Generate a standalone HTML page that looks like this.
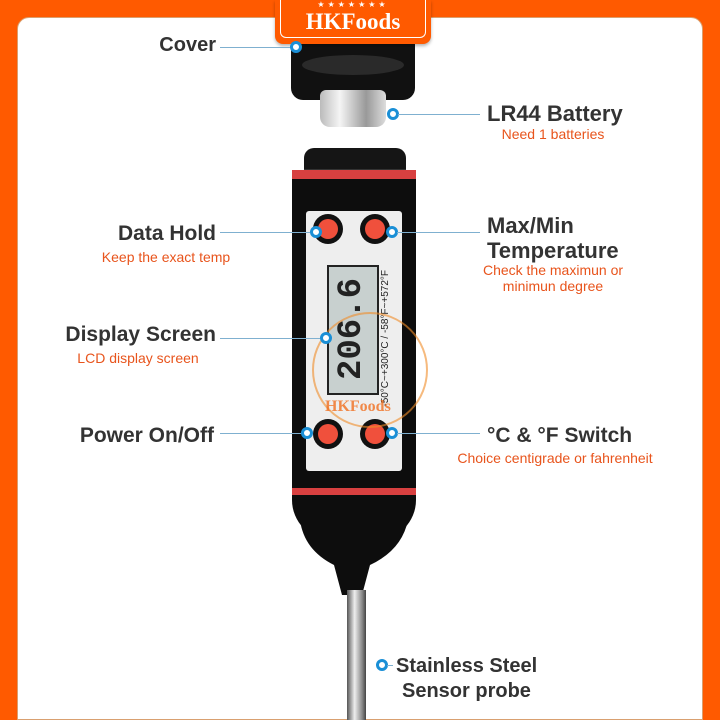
<!DOCTYPE html>
<html><head><meta charset="utf-8"><style>
*{margin:0;padding:0;box-sizing:border-box}
body{width:720px;height:720px;background:#ff5a00;position:relative;overflow:hidden;font-family:"Liberation Sans",sans-serif}
.in{position:absolute;left:17px;top:17px;right:17px;bottom:0;background:#fff;border-radius:12px 12px 0 0;border:1px solid #d9a070}
.a{position:absolute}
.t{position:absolute;font-weight:bold;color:#333;font-size:21px;white-space:nowrap}
.r{text-align:right;width:200px}
.s{position:absolute;color:#e8541c;font-size:14px;white-space:nowrap;text-align:center}
.ln{position:absolute;height:1px;background:#7fb0d0}
.dot{position:absolute;width:12px;height:12px;border:3px solid #1a8fd6;border-radius:50%;background:#fff}
.btn{position:absolute;width:30px;height:30px;border-radius:50%;background:#111}
.btn:after{content:"";position:absolute;left:5px;top:5px;width:20px;height:20px;border-radius:50%;background:#f0503c}
</style></head><body>
<div class="in"></div>
<!-- cover -->
<div class="a" style="left:291px;top:30px;width:124px;height:70px;background:#111;border-radius:0 0 12px 12px"></div>
<div class="a" style="left:302px;top:55px;width:102px;height:20px;border-radius:50%;background:#2a2a2a"></div>
<!-- badge -->
<div class="a" style="left:275px;top:0;width:156px;height:44px;background:#ff5a00;border-radius:0 0 8px 8px;box-shadow:0 2px 3px rgba(0,0,0,.3)"></div>
<div class="a" style="left:280px;top:0;width:146px;height:38px;border:1px solid #fff;border-top:none;border-radius:0 0 6px 6px"></div>
<div class="a" style="left:275px;top:0px;width:156px;text-align:center;color:#fff;font-size:8px;letter-spacing:3px">★★★★★★★</div>
<div class="a" style="left:275px;top:9px;width:156px;text-align:center;color:#fff;font:bold 23px 'Liberation Serif',serif">HKFoods</div>
<!-- battery -->
<div class="a" style="left:320px;top:90px;width:66px;height:37px;border-radius:6px 6px 10px 10px;background:linear-gradient(90deg,#bbb,#f5f5f5 30%,#999 70%,#ddd)"></div>
<!-- body -->
<div class="a" style="left:304px;top:148px;width:102px;height:24px;background:#151515;border-radius:10px 10px 0 0;border-bottom:3px solid #333"></div>
<div class="a" style="left:292px;top:170px;width:124px;height:370px;background:#0d0d0d;border-radius:6px 6px 40px 40px"></div>
<div class="a" style="left:292px;top:170px;width:124px;height:9px;background:#d84040"></div>
<div class="a" style="left:292px;top:488px;width:124px;height:7px;background:#d84040"></div>
<svg class="a" style="left:290px;top:520px" width="130" height="90"><path d="M10 0 H118 Q112 30 80 45 L72 75 H52 L44 45 Q14 30 10 0Z" fill="#0d0d0d"/></svg>
<div class="a" style="left:347px;top:590px;width:19px;height:130px;background:linear-gradient(90deg,#555,#eee 40%,#888 80%,#444)"></div>
<div class="a" style="left:306px;top:211px;width:96px;height:260px;background:#eeeeee;border-radius:3px"></div>
<div class="a" style="left:327px;top:265px;width:52px;height:130px;background:#c8d0cf;border:2px solid #222"></div>
<div class="a" style="left:333px;top:280px;width:40px;height:100px;color:#222;font:bold 34px 'Liberation Mono',monospace;writing-mode:vertical-rl;transform:rotate(180deg)">206.6</div>
<div class="a" style="left:380px;top:270px;font-size:10px;color:#222;writing-mode:vertical-rl;transform:rotate(180deg);white-space:nowrap">-50°C~+300°C / -58°F~+572°F</div>
<div class="btn" style="left:313px;top:214px"></div>
<div class="btn" style="left:360px;top:214px"></div>
<div class="btn" style="left:313px;top:419px"></div>
<div class="btn" style="left:360px;top:419px"></div>
<div class="a" style="left:312px;top:312px;width:116px;height:116px;border:2px solid rgba(240,140,40,.6);border-radius:50%"></div>
<div class="a" style="left:325px;top:398px;color:rgba(240,110,30,.8);font:bold 16px 'Liberation Serif',serif">HKFoods</div>
<!-- labels -->
<div class="t r" style="left:16px;top:34px;font-size:20px">Cover</div>
<div class="ln" style="left:220px;top:47px;width:72px"></div><div class="dot" style="left:290px;top:41px"></div>

<div class="dot" style="left:387px;top:108px"></div><div class="ln" style="left:398px;top:114px;width:82px"></div>
<div class="t" style="left:487px;top:101px;font-size:22px">LR44 Battery</div>
<div class="s" style="left:480px;top:126px;width:146px">Need 1 batteries</div>

<div class="t r" style="left:16px;top:222px">Data Hold</div>
<div class="s" style="left:90px;top:249px;width:152px">Keep the exact temp</div>
<div class="ln" style="left:220px;top:232px;width:90px"></div><div class="dot" style="left:310px;top:226px"></div>

<div class="dot" style="left:386px;top:226px"></div><div class="ln" style="left:397px;top:232px;width:83px"></div>
<div class="t" style="left:487px;top:213px;font-size:22px">Max/Min</div>
<div class="t" style="left:487px;top:238px;font-size:22px">Temperature</div>
<div class="s" style="left:470px;top:262px;width:166px">Check the maximun or<br>minimun degree</div>

<div class="t r" style="left:16px;top:323px">Display Screen</div>
<div class="s" style="left:60px;top:350px;width:156px">LCD display screen</div>
<div class="ln" style="left:220px;top:338px;width:100px"></div><div class="dot" style="left:320px;top:332px"></div>

<div class="t r" style="left:14px;top:424px">Power On/Off</div>
<div class="ln" style="left:220px;top:433px;width:82px"></div><div class="dot" style="left:301px;top:427px"></div>

<div class="dot" style="left:386px;top:427px"></div><div class="ln" style="left:397px;top:433px;width:83px"></div>
<div class="t" style="left:487px;top:424px;font-size:21px">°C &amp; °F Switch</div>
<div class="s" style="left:446px;top:450px;width:218px">Choice centigrade or fahrenheit</div>

<div class="dot" style="left:376px;top:659px"></div><div class="ln" style="left:387px;top:665px;width:6px"></div>
<div class="t" style="left:396px;top:655px;font-size:20px">Stainless Steel</div>
<div class="t" style="left:402px;top:680px;font-size:20px">Sensor probe</div>
</body></html>
